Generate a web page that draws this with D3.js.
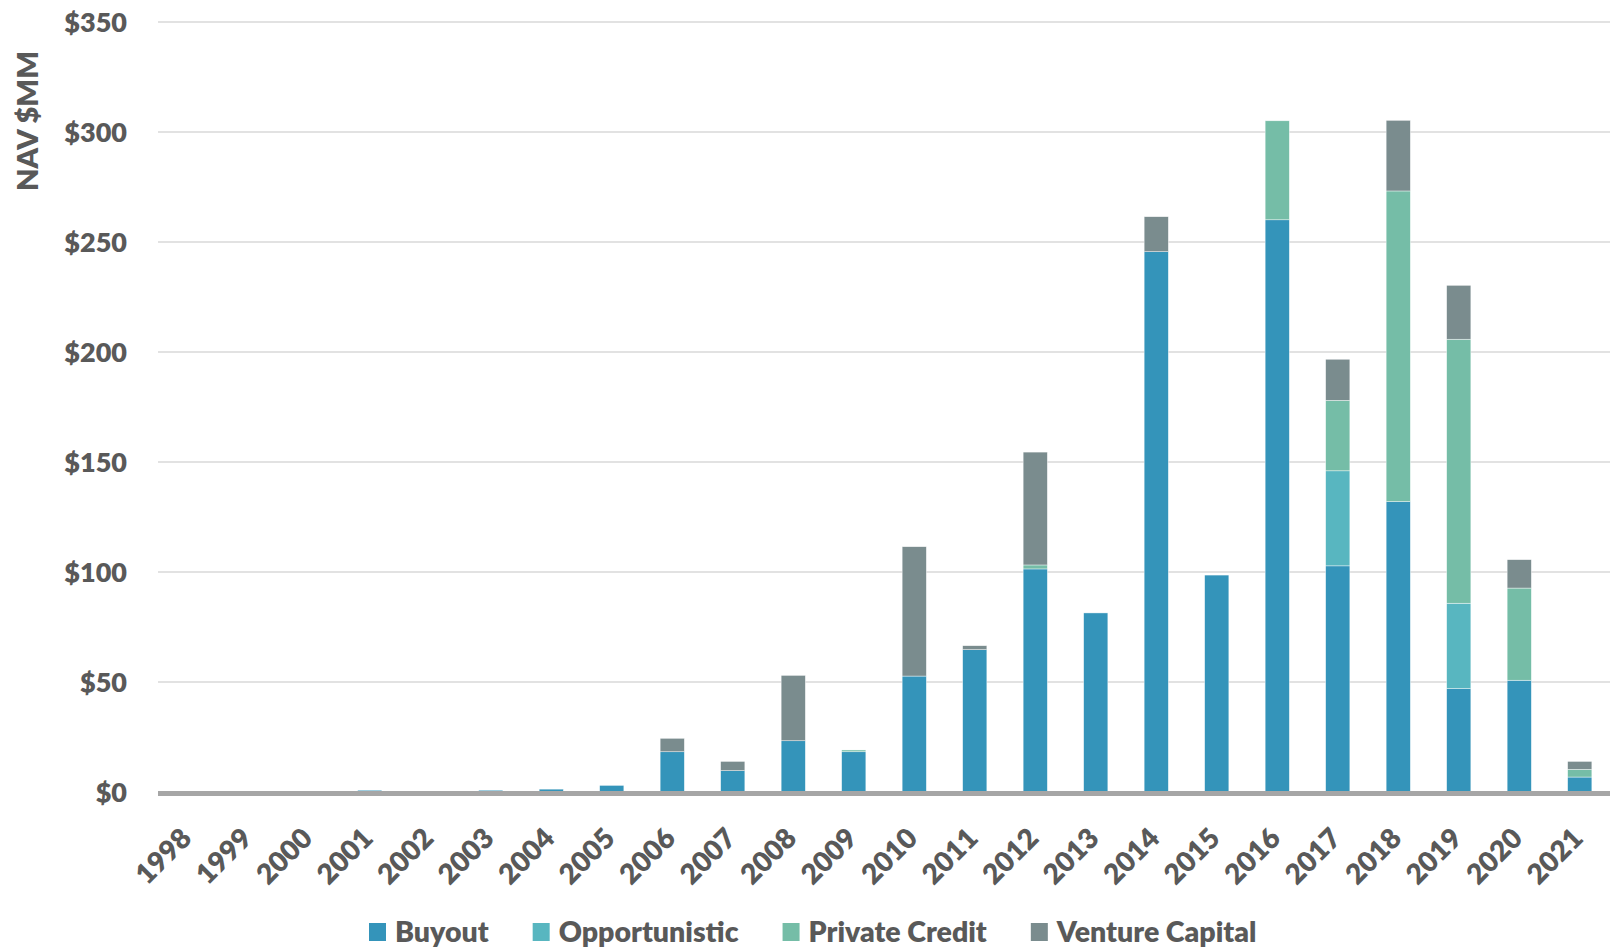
<!DOCTYPE html>
<html>
<head>
<meta charset="utf-8">
<script src="https://cdn.jsdelivr.net/npm/d3@7"></script>
<style>
  html, body { margin: 0; padding: 0; background: #fff; }
  svg { display: block; }
  text { font-family: Lato, "Open Sans", sans-serif; font-weight: 700; fill: #595959; }
</style>
</head>
<body>
<svg id="chart" width="1613" height="948"></svg>
<script>
const years = ["1998","1999","2000","2001","2002","2003","2004","2005","2006","2007","2008","2009","2010","2011","2012","2013","2014","2015","2016","2017","2018","2019","2020","2021"];
const buyout        = [0,0,0,0.8,0,0.8,1.3,3,18.3,9.7,23.3,18.3,52.7,64.7,101.4,81.4,245.6,98.6,260.1,102.8,132,47,50.8,6.8];
const opportunistic = [0,0,0,0,0,0,0,0,0,0,0,0,0,0,0,0,0,0,0,43.2,0,38.8,0,0];
const privateCredit = [0,0,0,0,0,0,0,0,0,0,0,0.8,0,0,1.8,0,0,0,45,32,141.2,120,41.9,3.5];
const ventureCapital= [0,0,0,0,0,0,0,0,6.1,4.2,29.7,0,58.8,1.8,51.3,0,15.9,0,0,18.7,32.1,24.5,12.9,3.6];
const seriesNames = ["Buyout","Opportunistic","Private Credit","Venture Capital"];
const seriesColors = ["#3494ba","#58b6c0","#75bda7","#7a8c8e"];
const yTicks = [0,50,100,150,200,250,300,350];
const yTitle = "NAV $MM";

(function () {
const svg = d3.select("#chart");
const pLeft = 158, pRight = 1610, pTop = 22, pBottom = 792;

const x = d3.scaleBand().domain(years).range([pLeft, pRight]).paddingInner(0.6).paddingOuter(0.3);
const y = d3.scaleLinear().domain([0, 350]).range([pBottom, pTop]);

// gridlines
svg.append("g").selectAll("line").data(yTicks.filter(d => d > 0)).join("line")
  .attr("x1", pLeft).attr("x2", pRight)
  .attr("y1", d => y(d)).attr("y2", d => y(d))
  .attr("stroke", "#d9d9d9").attr("stroke-width", 1.4);

// stacked data
const rows = years.map((yr, i) => ({
  year: yr,
  "Buyout": buyout[i],
  "Opportunistic": opportunistic[i],
  "Private Credit": privateCredit[i],
  "Venture Capital": ventureCapital[i]
}));
const stacked = d3.stack().keys(seriesNames)(rows);

svg.append("g").selectAll("g").data(stacked).join("g")
  .attr("fill", (d, i) => seriesColors[i])
  .selectAll("rect").data(d => d.filter(p => p[1] - p[0] > 0)).join("rect")
  .attr("x", d => x(d.data.year))
  .attr("width", x.bandwidth())
  .attr("y", d => y(d[1]))
  .attr("height", d => y(d[0]) - y(d[1]))
  .attr("stroke", "#ffffff").attr("stroke-width", 0.6).attr("stroke-opacity", 0.7);

// x axis baseline
svg.append("line")
  .attr("x1", pLeft).attr("x2", pRight)
  .attr("y1", y(0) + 1.4).attr("y2", y(0) + 1.4)
  .attr("stroke", "#a6a6a6").attr("stroke-width", 5);

// y axis
const yAxis = svg.append("g").attr("transform", `translate(${pLeft},0)`)
  .call(d3.axisLeft(y).tickValues(yTicks).tickFormat(d => "$" + d).tickSize(0).tickPadding(31));
yAxis.select(".domain").remove();
yAxis.selectAll("text").style("font-size", "27px").style("font-family", "Lato, sans-serif").style("font-weight", 800).attr("fill", "#595959").attr("dy", "0.35em");

// x axis
const xAxis = svg.append("g").attr("transform", `translate(0,${pBottom})`)
  .call(d3.axisBottom(x).tickSize(0));
xAxis.select(".domain").remove();
xAxis.selectAll("text")
  .style("font-size", "28px").style("font-family", "Lato, sans-serif").style("font-weight", 800).attr("fill", "#595959")
  .attr("x", 0).attr("y", 0).attr("dy", 0)
  .attr("text-anchor", "end")
  .attr("transform", "translate(5,48) rotate(-45)");

// y title
svg.append("text")
  .attr("transform", "translate(26,121) rotate(-90)")
  .attr("text-anchor", "middle").attr("dominant-baseline", "central")
  .style("font-size", "29px").style("font-weight", 800)
  .text(yTitle);

// legend
const legend = svg.append("g");
let lx = 369;
const ly = 932;
seriesNames.forEach((name, i) => {
  legend.append("rect").attr("x", lx).attr("y", ly - 9).attr("width", 17).attr("height", 18).attr("fill", seriesColors[i]);
  const t = legend.append("text").attr("x", lx + 26).attr("y", ly).attr("dy", "0.35em")
    .style("font-size", "28.5px").style("font-weight", 800).text(name);
  const w = t.node().getComputedTextLength();
  lx = lx + 26 + w + 44;
});
})();
</script>
</body>
</html>
